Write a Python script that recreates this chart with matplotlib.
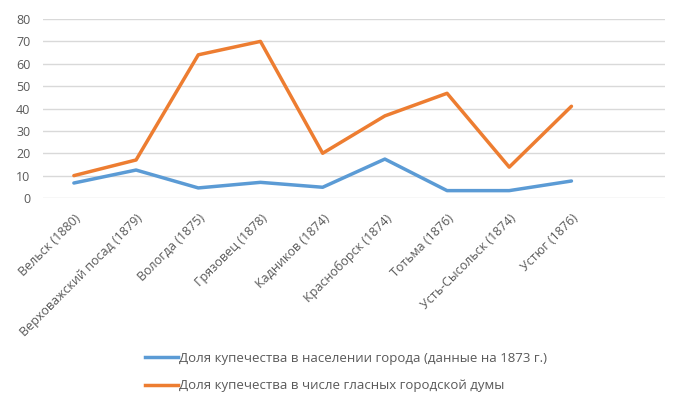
# Доля купечества: население города vs гласные городской думы

import matplotlib.pyplot as plt
from matplotlib.lines import Line2D

plt.rcParams['font.family'] = ['Open Sans', 'DejaVu Sans']

# Data
towns = ['Вельск (1880)', 'Верховажский посад (1879)', 'Вологда (1875)',
         'Грязовец (1878)', 'Кадников (1874)', 'Красноборск (1874)',
         'Тотьма (1876)', 'Усть-Сысольск (1874)', 'Устюг (1876)']
merchants_population = [6.7, 12.5, 4.5, 7.0, 4.8, 17.4, 3.3, 3.3, 7.6]
merchants_duma = [10, 17, 64, 70, 20, 36.7, 46.8, 13.8, 41]
yticks = [0, 10, 20, 30, 40, 50, 60, 70, 80]

label_pop = 'Доля купечества в населении города (данные на 1873 г.)'
label_duma = 'Доля купечества в числе гласных городской думы'

blue = '#5B9BD5'
orange = '#ED7D31'
grey = '#595959'

fig = plt.figure(figsize=(6.79, 3.98), dpi=100)
ax = fig.add_axes([0.063, 0.5025, 0.916, 0.4497])

x = list(range(len(towns)))
ax.plot(x, merchants_population, color=blue, linewidth=2.5, solid_capstyle='round')
ax.plot(x, merchants_duma, color=orange, linewidth=2.5, solid_capstyle='round')

ax.set_xlim(-0.5, 9.5)
ax.set_ylim(0, 80)
ax.set_yticks(yticks)
ax.set_xticks(x)
ax.set_xticklabels(towns, rotation=45, ha='right', rotation_mode='anchor',
                   fontsize=9.7)
ax.tick_params(axis='both', length=0, colors=grey, labelsize=9)
ax.tick_params(axis='x', pad=10)
ax.tick_params(axis='y', pad=9)

# grid lines
ax.grid(axis='y', color='#D9D9D9', linewidth=1)
ax.set_axisbelow(True)
for s in ax.spines.values():
    s.set_visible(False)

handles = [Line2D([], [], color=blue, linewidth=2.5),
           Line2D([], [], color=orange, linewidth=2.5)]
fig.legend(handles, [label_pop, label_duma], loc='lower left',
           bbox_to_anchor=(0.196, -0.016), frameon=False, fontsize=9.5,
           labelcolor=grey, handlelength=2.5, handletextpad=0.1,
           labelspacing=1.1)

fig.savefig('out.png', dpi=100)
